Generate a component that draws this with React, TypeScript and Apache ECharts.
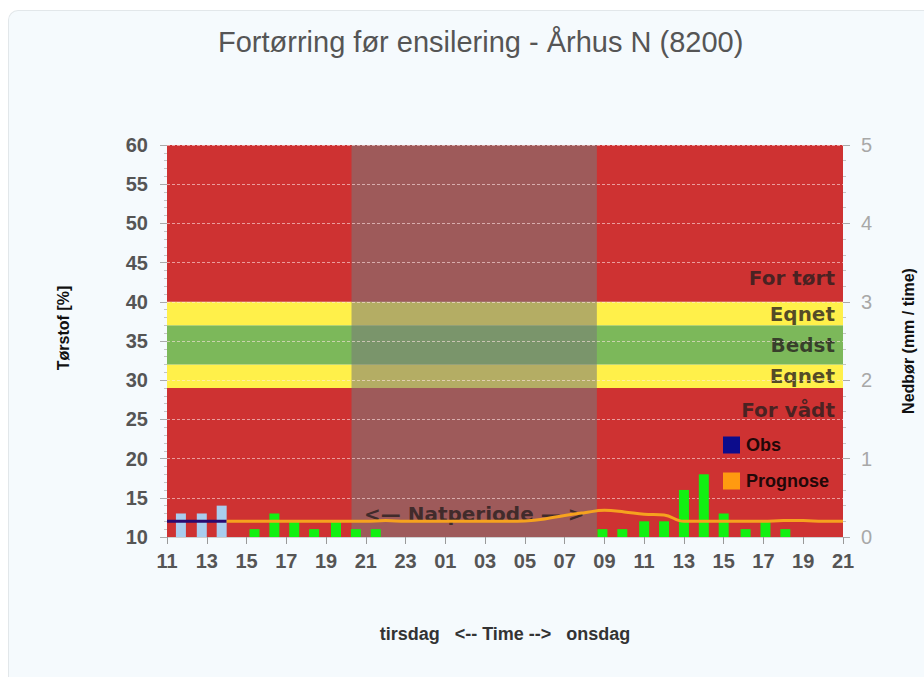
import React, { useEffect, useRef } from 'react';
import * as echarts from 'echarts';

// ---------- data ----------
const titleText = 'Fortørring før ensilering - Århus N (8200)';
const xAxisTitle = 'tirsdag   <-- Time -->   onsdag';
const leftAxisTitle = 'Tørstof [%]';
const rightAxisTitle = 'Nedbør (mm / time)';

// x axis: hours after 11:00 tirsdag (0 .. 34 = 21:00 onsdag)
const startHour = 11;
const hourSpan = 34;

// dry-matter zones (Tørstof %)
const bandLimits = [[10, 29], [29, 32], [32, 37], [37, 40], [40, 60]];
const bandNames = ['For vådt', 'Eqnet', 'Bedst', 'Eqnet', 'For tørt'];
const bandLabelAt = [26.2, 30.5, 34.5, 38.5, 43.0];
const bandColors = ['#CE3232', '#FFF04A', '#7CB85A', '#FFF04A', '#CE3232'];

// night period (hours after 11:00)
const nightSpan = [9.28, 21.62];
const nightLabel = '<— Natperiode — >';
const nightLabelAt = 12.9;

// observed dry matter
const obsHours = [0, 1, 2, 3];
const obsValues = [12, 12, 12, 12];

// forecast dry matter
const progHours = [3, 4, 5, 6, 7, 8, 9, 10, 11, 12, 13, 14, 15, 16, 17, 18, 19, 20, 21, 22, 23, 24, 25, 26, 27, 28, 29, 30, 31, 32, 33, 34];
const progValues = [12, 12, 12, 12, 12, 12, 12, 12, 12.1, 12, 12, 12, 12, 12, 12, 12.05, 12.3, 12.75, 13.1, 13.4, 13.2, 12.9, 12.8, 12.0, 12, 12, 12, 12, 12.1, 12.1, 12, 12];

// precipitation (mm / time)
const rainObsHours = [0.7, 1.75, 2.75];
const rainObsValues = [0.3, 0.3, 0.4];
const rainFcHours = [4.4, 5.4, 6.4, 7.4, 8.5, 9.5, 10.5, 21.9, 22.9, 24, 25, 26, 27, 28, 29.1, 30.1, 31.1];
const rainFcValues = [0.1, 0.3, 0.2, 0.1, 0.2, 0.1, 0.1, 0.1, 0.1, 0.2, 0.2, 0.6, 0.8, 0.3, 0.1, 0.2, 0.1];

const labelFont = 'DejaVu Sans';
const baseFont = 'Liberation Sans';

export default function App() {
  const ref = useRef<HTMLDivElement>(null);

  useEffect(() => {
    if (!ref.current) return;
    const chart = echarts.init(ref.current, undefined, { renderer: 'svg' });

    const option: any = {
      animation: false,
      title: {
        text: titleText,
        left: 205,
        top: 12,
        textStyle: { fontSize: 29, fontWeight: 'normal', color: '#555', fontFamily: baseFont },
      },
      legend: {
        data: ['Obs', 'Prognose'],
        orient: 'vertical',
        left: 710,
        top: 421,
        itemWidth: 17,
        itemHeight: 17,
        itemGap: 18,
        icon: 'rect',
        selectedMode: false,
        textStyle: { fontSize: 18, fontWeight: 'bold', color: '#220808', fontFamily: baseFont, padding: [0, 0, 0, 1] },
      },
      grid: { left: 159, right: 80, top: 135, bottom: 140 },
      xAxis: {
        type: 'value',
        min: 0,
        max: hourSpan,
        interval: 2,
        axisLine: { show: true, lineStyle: { color: '#cfcfcf' } },
        axisTick: { show: true, length: 7, lineStyle: { color: '#999' } },
        splitLine: { show: false },
        axisLabel: {
          formatter: (v: number) => String((startHour + v) % 24).padStart(2, '0'),
          color: '#555',
          fontSize: 20,
          fontWeight: 'bold',
          fontFamily: baseFont,
          margin: 14,
        },
        name: xAxisTitle,
        nameLocation: 'middle',
        nameGap: 88,
        nameTextStyle: { fontSize: 18, fontWeight: 'bold', color: '#333', fontFamily: baseFont },
      },
      yAxis: [
        {
          type: 'value',
          min: 10,
          max: 60,
          interval: 5,
          position: 'left',
          axisLine: { show: false },
          axisTick: { show: true, length: 7, lineStyle: { color: '#aaa' } },
          minorTick: { show: true, splitNumber: 5, length: 3, lineStyle: { color: '#c4c4c4' } },
          splitLine: { show: true, lineStyle: { color: 'rgba(255,228,228,0.6)', type: [3, 2], width: 1 } },
          axisLabel: { color: '#555', fontSize: 20, fontWeight: 'bold', fontFamily: baseFont, margin: 19 },
          name: leftAxisTitle,
          nameLocation: 'middle',
          nameRotate: 90,
          nameGap: 96,
          nameTextStyle: { fontSize: 16, fontWeight: 'bold', color: '#111', fontFamily: baseFont, padding: [0, 0, 0, 26] },
        },
        {
          type: 'value',
          min: 0,
          max: 5,
          interval: 1,
          position: 'right',
          axisLine: { show: false },
          axisTick: { show: true, length: 7, lineStyle: { color: '#aaa' } },
          minorTick: { show: true, splitNumber: 5, length: 3, lineStyle: { color: '#c4c4c4' } },
          splitLine: { show: false },
          axisLabel: { color: '#a8a8a8', fontSize: 20, fontFamily: baseFont, margin: 18 },
          name: rightAxisTitle,
          nameLocation: 'middle',
          nameRotate: 90,
          nameGap: 57,
          nameTextStyle: { fontSize: 16, fontWeight: 'bold', color: '#111', fontFamily: baseFont },
        },
      ],
      series: [
        {
          type: 'custom',
          name: 'zones',
          z: -2,
          xAxisIndex: 0,
          yAxisIndex: 0,
          silent: true,
          data: bandLimits.map((b) => [b[0], b[1]]),
          renderItem: (params: any, api: any) => {
            const i = params.dataIndex;
            const cs = params.coordSys;
            const lo = bandLimits[i][0];
            const hi = bandLimits[i][1];
            const yTop = api.coord([0, hi])[1];
            const yBot = api.coord([0, lo])[1];
            const yLab = api.coord([0, bandLabelAt[i]])[1];
            return {
              type: 'group',
              children: [
                { type: 'rect', shape: { x: cs.x, y: yTop, width: cs.width, height: yBot - yTop }, style: { fill: bandColors[i] } },
                {
                  type: 'text',
                  style: {
                    text: bandNames[i],
                    x: cs.x + cs.width - 8,
                    y: yLab,
                    align: 'right',
                    verticalAlign: 'middle',
                    fontSize: 20,
                    fontWeight: 'bold',
                    fontFamily: labelFont,
                    fill: 'rgba(38,30,30,0.78)',
                  },
                },
              ],
            };
          },
        },
        {
          type: 'custom',
          name: 'night',
          z: -1,
          xAxisIndex: 0,
          yAxisIndex: 0,
          silent: true,
          data: [[nightSpan[0], nightSpan[1]]],
          renderItem: (params: any, api: any) => {
            const cs = params.coordSys;
            const x0 = api.coord([nightSpan[0], 60])[0];
            const x1 = api.coord([nightSpan[1], 60])[0];
            const yLab = api.coord([0, nightLabelAt])[1];
            return {
              type: 'group',
              children: [
                { type: 'rect', shape: { x: x0, y: cs.y, width: x1 - x0, height: cs.height }, style: { fill: 'rgba(122,122,122,0.56)' } },
                {
                  type: 'text',
                  style: {
                    text: nightLabel,
                    x: (x0 + x1) / 2,
                    y: yLab,
                    align: 'center',
                    verticalAlign: 'middle',
                    fontSize: 20,
                    fontWeight: 'bold',
                    fontFamily: labelFont,
                    fill: 'rgba(40,30,30,0.8)',
                  },
                },
              ],
            };
          },
        },
        {
          type: 'bar',
          name: 'Nedbør obs',
          xAxisIndex: 0,
          yAxisIndex: 1,
          barWidth: 10,
          barGap: '-100%',
          itemStyle: { color: '#A9CDEE' },
          data: rainObsHours.map((h, i) => [h, rainObsValues[i]]),
        },
        {
          type: 'bar',
          name: 'Nedbør prognose',
          xAxisIndex: 0,
          yAxisIndex: 1,
          barWidth: 10,
          barGap: '-100%',
          itemStyle: { color: '#12F012' },
          data: rainFcHours.map((h, i) => [h, rainFcValues[i]]),
        },
        {
          type: 'line',
          name: 'Obs',
          xAxisIndex: 0,
          yAxisIndex: 0,
          z: 3,
          symbol: 'none',
          itemStyle: { color: '#0C0C8C' },
          lineStyle: { color: '#2A0A70', width: 3 },
          data: obsHours.map((h, i) => [h, obsValues[i]]),
        },
        {
          type: 'line',
          name: 'Prognose',
          xAxisIndex: 0,
          yAxisIndex: 0,
          z: 3,
          symbol: 'none',
          smooth: 0.4,
          itemStyle: { color: '#FF9A10' },
          lineStyle: { color: '#F6A21E', width: 3 },
          data: progHours.map((h, i) => [h, progValues[i]]),
        },
      ],
    };

    chart.setOption(option);
    return () => chart.dispose();
  }, []);

  return (
    <>
      <div
        style={{
          position: 'absolute',
          left: 8,
          top: 10,
          width: 916,
          height: 667,
          boxSizing: 'border-box',
          background: '#F5FAFD',
          borderLeft: '1px solid #e2e7ea',
          borderTop: '1px solid #e2e7ea',
          borderTopLeftRadius: 10,
        }}
      />
      <div ref={ref} style={{ position: 'absolute', left: 8, top: 10, width: 916, height: 667 }} />
    </>
  );
}
